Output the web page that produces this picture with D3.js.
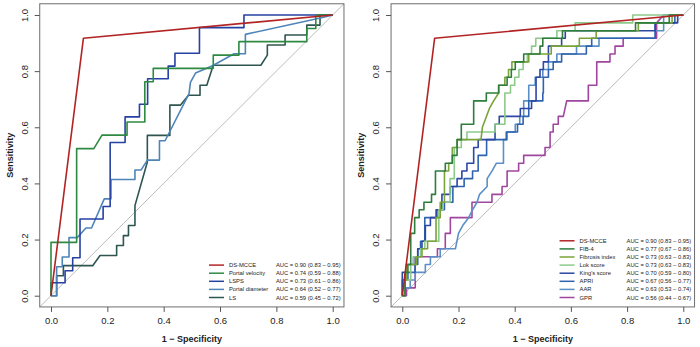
<!DOCTYPE html>
<html lang="en">
<head>
<meta charset="UTF-8">
<title>ROC curves</title>
<script src="https://cdn.jsdelivr.net/npm/d3@7/dist/d3.min.js"></script>
<style>
body { margin: 0; background: #fff; }
svg { display: block; }
text { font-family: 'Liberation Sans', Arial, sans-serif; fill: #222; }
</style>
</head>
<body>
<svg id="chart" width="700" height="347"></svg>
<script>
// ---- data ----
const xTicks = [0, 0.2, 0.4, 0.6, 0.8, 1.0];
const yTicks = [0, 0.2, 0.4, 0.6, 0.8, 1.0];

// left panel
const leftNames = ["DS-MCCE", "Portal velocity", "LSPS", "Portal diameter", "LS"];
const leftAUC = ["AUC = 0.90 (0.83 \u2013 0.95)", "AUC = 0.74 (0.59 \u2013 0.88)", "AUC = 0.73 (0.61 \u2013 0.86)",
                 "AUC = 0.64 (0.52 \u2013 0.77)", "AUC = 0.59 (0.45 \u2013 0.72)"];
const leftColors = ["#b22424", "#2e8a42", "#2741a3", "#4f84b8", "#2f5550"];

// each curve: [1 - specificity, sensitivity]
const dsMcce = [[0,0],[0.115,0.917],[1,1]];
const portalVelocity = [[0,0],[0,0.19],[0.091,0.19],[0.091,0.524],[0.152,0.524],[0.181,0.572],[0.27,0.572],[0.27,0.619],
  [0.333,0.619],[0.333,0.762],[0.363,0.762],[0.363,0.81],[0.576,0.81],[0.576,0.857],[0.667,0.857],[0.667,0.905],
  [0.908,0.905],[0.908,0.952],[0.94,0.952],[0.94,1],[1,1]];
const lsps = [[0,0],[0,0.046],[0.05,0.046],[0.05,0.089],[0.077,0.089],[0.077,0.135],[0.103,0.135],[0.103,0.273],
  [0.185,0.273],[0.185,0.318],[0.21,0.318],[0.21,0.546],[0.263,0.546],[0.263,0.637],[0.314,0.637],[0.314,0.682],
  [0.343,0.682],[0.343,0.773],[0.416,0.773],[0.416,0.818],[0.44,0.818],[0.44,0.864],[0.527,0.864],[0.527,0.955],
  [0.685,0.955],[0.685,1],[1,1]];
const portalDiameter = [[0,0],[0.02,0],[0.02,0.103],[0.04,0.103],[0.04,0.138],[0.064,0.138],[0.064,0.207],[0.093,0.207],
  [0.124,0.241],[0.144,0.241],[0.189,0.345],[0.213,0.345],[0.213,0.414],[0.298,0.414],[0.298,0.448],[0.32,0.448],
  [0.342,0.483],[0.385,0.483],[0.385,0.552],[0.405,0.552],[0.49,0.72],[0.495,0.76],[0.513,0.793],[0.575,0.82],
  [0.65,0.862],[0.69,0.862],[0.69,0.931],[0.96,0.99],[1,1]];
const ls = [[0,0],[0.02,0],[0.02,0.071],[0.044,0.071],[0.044,0.107],[0.148,0.107],[0.174,0.143],[0.233,0.143],
  [0.233,0.179],[0.257,0.179],[0.257,0.214],[0.275,0.214],[0.275,0.25],[0.298,0.25],[0.298,0.321],[0.342,0.476],
  [0.342,0.571],[0.422,0.571],[0.422,0.679],[0.46,0.679],[0.488,0.714],[0.529,0.714],[0.529,0.75],[0.553,0.75],
  [0.576,0.821],[0.745,0.821],[0.768,0.857],[0.768,0.893],[0.831,0.893],[0.831,0.929],[0.908,0.929],[0.908,0.964],
  [0.955,0.964],[0.955,1],[1,1]];
const leftCurves = [dsMcce, portalVelocity, lsps, portalDiameter, ls];

// right panel
const rightNames = ["DS-MCCE", "FIB-4", "Fibrosis index", "Lok score", "King's score", "APRI", "AAR", "GPR"];
const rightAUC = ["AUC = 0.90 (0.83 \u2013 0.95)", "AUC = 0.77 (0.67 \u2013 0.86)", "AUC = 0.73 (0.63 \u2013 0.83)",
                  "AUC = 0.73 (0.63 \u2013 0.83)", "AUC = 0.70 (0.59 \u2013 0.80)", "AUC = 0.67 (0.56 \u2013 0.77)",
                  "AUC = 0.63 (0.53 \u2013 0.74)", "AUC = 0.56 (0.44 \u2013 0.67)"];
const rightColors = ["#b22424", "#2e7d3c", "#7aa33a", "#8dca8a", "#2c47a4", "#2f63b0", "#5b8fc6", "#a0469f"];

const fib4 = [[0,0],[0.01,0],[0.01,0.083],[0.02,0.083],[0.02,0.111],[0.03,0.111],[0.03,0.222],[0.044,0.222],[0.044,0.278],
  [0.06,0.278],[0.06,0.306],[0.077,0.306],[0.077,0.333],[0.104,0.333],[0.104,0.361],[0.118,0.361],[0.118,0.444],
  [0.153,0.444],[0.153,0.472],[0.178,0.472],[0.178,0.5],[0.195,0.5],[0.195,0.556],[0.21,0.556],[0.21,0.611],
  [0.254,0.611],[0.254,0.694],[0.299,0.694],[0.299,0.722],[0.343,0.722],[0.343,0.75],[0.373,0.75],[0.373,0.778],
  [0.388,0.778],[0.388,0.806],[0.402,0.806],[0.402,0.833],[0.432,0.833],[0.432,0.861],[0.49,0.861],[0.49,0.889],
  [0.5,0.889],[0.5,0.917],[0.57,0.917],[0.57,0.944],[0.83,0.944],[0.83,0.972],[0.95,0.972],[0.95,1],[1,1]];
const fibrosisIndex = [[0,0],[0.01,0],[0.01,0.056],[0.015,0.056],[0.015,0.111],[0.05,0.111],[0.05,0.139],[0.07,0.139],
  [0.07,0.167],[0.09,0.167],[0.09,0.194],[0.12,0.194],[0.12,0.278],[0.135,0.278],[0.135,0.333],[0.15,0.333],
  [0.15,0.444],[0.165,0.444],[0.165,0.472],[0.178,0.472],[0.178,0.528],[0.195,0.528],[0.195,0.556],[0.28,0.556],
  [0.285,0.6],[0.3,0.64],[0.31,0.667],[0.325,0.694],[0.343,0.722],[0.343,0.75],[0.365,0.75],[0.365,0.778],
  [0.378,0.778],[0.378,0.806],[0.39,0.806],[0.39,0.833],[0.45,0.833],[0.45,0.861],[0.53,0.861],[0.53,0.889],
  [0.63,0.889],[0.63,0.917],[0.69,0.917],[0.69,0.944],[0.84,0.944],[0.84,0.972],[0.96,0.972],[0.96,1],[1,1]];
const lokScore = [[0,0],[0.01,0],[0.01,0.056],[0.03,0.056],[0.03,0.111],[0.04,0.111],[0.04,0.139],[0.065,0.139],
  [0.065,0.167],[0.08,0.167],[0.08,0.194],[0.13,0.194],[0.13,0.306],[0.145,0.306],[0.145,0.333],[0.17,0.333],
  [0.17,0.417],[0.185,0.417],[0.185,0.528],[0.21,0.528],[0.21,0.556],[0.23,0.556],[0.23,0.583],[0.33,0.583],
  [0.33,0.611],[0.365,0.611],[0.365,0.722],[0.385,0.722],[0.385,0.75],[0.4,0.75],[0.4,0.778],[0.415,0.778],
  [0.415,0.806],[0.43,0.806],[0.43,0.833],[0.445,0.833],[0.445,0.861],[0.46,0.861],[0.46,0.889],[0.475,0.889],
  [0.475,0.917],[0.55,0.917],[0.55,0.944],[0.615,0.944],[0.615,0.972],[0.82,0.972],[0.82,1],[1,1]];
const kingsScore = [[0,0],[0,0.083],[0.015,0.083],[0.015,0.111],[0.04,0.111],[0.04,0.139],[0.055,0.139],[0.055,0.167],
  [0.07,0.167],[0.07,0.194],[0.082,0.194],[0.082,0.25],[0.1,0.25],[0.1,0.278],[0.123,0.278],[0.123,0.306],
  [0.141,0.306],[0.141,0.361],[0.171,0.361],[0.171,0.389],[0.195,0.389],[0.195,0.417],[0.212,0.417],[0.212,0.444],
  [0.23,0.444],[0.23,0.472],[0.254,0.472],[0.254,0.528],[0.27,0.528],[0.27,0.556],[0.33,0.556],[0.33,0.611],
  [0.345,0.611],[0.345,0.639],[0.42,0.639],[0.42,0.667],[0.46,0.667],[0.46,0.694],[0.476,0.694],[0.476,0.778],
  [0.49,0.778],[0.49,0.806],[0.502,0.806],[0.502,0.833],[0.52,0.833],[0.52,0.889],[0.567,0.889],[0.567,0.917],
  [0.58,0.917],[0.58,0.944],[0.9,0.944],[0.9,0.972],[0.98,0.972],[0.98,1],[1,1]];
const apri = [[0,0],[0,0.056],[0.02,0.056],[0.02,0.083],[0.045,0.083],[0.045,0.111],[0.055,0.111],[0.055,0.167],
  [0.065,0.167],[0.065,0.194],[0.08,0.194],[0.08,0.278],[0.12,0.278],[0.12,0.306],[0.15,0.306],[0.15,0.333],
  [0.18,0.333],[0.18,0.389],[0.22,0.389],[0.22,0.417],[0.25,0.417],[0.25,0.444],[0.27,0.444],[0.27,0.5],[0.3,0.5],
  [0.3,0.556],[0.37,0.556],[0.37,0.583],[0.41,0.583],[0.41,0.611],[0.43,0.611],[0.43,0.639],[0.45,0.639],[0.45,0.694],
  [0.5,0.694],[0.5,0.722],[0.502,0.722],[0.502,0.778],[0.52,0.778],[0.52,0.806],[0.537,0.806],[0.537,0.833],
  [0.567,0.833],[0.567,0.861],[0.655,0.861],[0.655,0.889],[0.674,0.889],[0.674,0.917],[0.9,0.917],[0.9,0.972],
  [0.97,0.972],[0.97,1],[1,1]];
const aar = [[0,0],[0.01,0],[0.01,0.028],[0.028,0.028],[0.028,0.056],[0.046,0.056],[0.046,0.083],[0.082,0.083],
  [0.082,0.111],[0.1,0.111],[0.1,0.139],[0.135,0.139],[0.135,0.167],[0.189,0.167],[0.2,0.222],[0.215,0.25],
  [0.236,0.278],[0.25,0.306],[0.266,0.333],[0.275,0.361],[0.302,0.389],[0.302,0.417],[0.319,0.444],[0.335,0.472],
  [0.36,0.472],[0.36,0.556],[0.373,0.556],[0.373,0.583],[0.402,0.583],[0.402,0.611],[0.418,0.611],[0.418,0.639],
  [0.432,0.639],[0.432,0.694],[0.45,0.694],[0.45,0.75],[0.473,0.75],[0.473,0.778],[0.5,0.778],[0.5,0.806],
  [0.52,0.806],[0.52,0.833],[0.55,0.833],[0.55,0.861],[0.62,0.861],[0.62,0.889],[0.7,0.889],[0.7,0.917],
  [0.9,0.917],[0.9,0.944],[0.93,0.944],[0.93,1],[1,1]];
const gpr = [[0,0],[0.015,0],[0.015,0.028],[0.046,0.028],[0.046,0.139],[0.125,0.139],[0.125,0.167],[0.153,0.167],
  [0.153,0.222],[0.171,0.222],[0.171,0.278],[0.248,0.278],[0.248,0.333],[0.319,0.333],[0.319,0.361],[0.355,0.361],
  [0.355,0.389],[0.373,0.389],[0.373,0.444],[0.414,0.444],[0.414,0.472],[0.432,0.472],[0.432,0.5],[0.508,0.5],
  [0.508,0.528],[0.526,0.528],[0.526,0.583],[0.537,0.583],[0.537,0.611],[0.555,0.611],[0.555,0.639],[0.573,0.639],
  [0.585,0.694],[0.662,0.694],[0.662,0.75],[0.692,0.75],[0.692,0.833],[0.739,0.833],[0.739,0.861],[0.757,0.861],
  [0.757,0.889],[0.786,0.889],[0.786,0.917],[0.905,0.917],[0.905,0.972],[0.93,1],[1,1]];
const rightCurves = [dsMcce, fib4, fibrosisIndex, lokScore, kingsScore, apri, aar, gpr];

// ---- drawing ----
const svg = d3.select('#chart');

function drawPanel(zeroX, oneX, names, aucs, curves, colors) {
    const pad = 0.04; // R extends the axes by 4%
    const x = d3.scaleLinear().domain([-pad, 1 + pad])
        .range([zeroX - pad * (oneX - zeroX), oneX + pad * (oneX - zeroX)]);
    const y = d3.scaleLinear().domain([-pad, 1 + pad])
        .range([295.7 + pad * 280.7, 15 - pad * 280.7]);
    const [bx0, bx1] = x.range();
    const [by0, by1] = y.range();

    const g = svg.append('g');

    // diagonal reference
    g.append('line')
        .attr('x1', x(-pad)).attr('y1', y(-pad))
        .attr('x2', x(1 + pad)).attr('y2', y(1 + pad))
        .attr('stroke', '#bcbcbc').attr('stroke-width', 1);

    // curves (drawn last-to-first so DS-MCCE sits on top)
    const line = d3.line().x(d => x(d[0])).y(d => y(d[1]));
    g.append('g').selectAll('path')
        .data(curves.map((c, i) => ({c, i})).reverse())
        .join('path')
        .attr('d', d => line(d.c))
        .attr('fill', 'none')
        .attr('stroke', d => colors[d.i])
        .attr('stroke-width', 1.6)
        .attr('stroke-linejoin', 'round');

    // box
    g.append('rect')
        .attr('x', bx0).attr('y', by1)
        .attr('width', bx1 - bx0).attr('height', by0 - by1)
        .attr('fill', 'none').attr('stroke', '#6e6e6e').attr('stroke-width', 1);

    // x axis
    const xAxis = g.append('g').attr('transform', `translate(0,${by0})`)
        .call(d3.axisBottom(x).tickValues(xTicks).tickFormat(d3.format('.1f')).tickSize(5).tickPadding(5));
    xAxis.select('.domain').remove();
    xAxis.selectAll('line').attr('stroke', '#555');
    xAxis.selectAll('text').attr('font-size', 9.5).attr('fill', '#222')
        .attr('font-family', "'Liberation Sans', Arial, sans-serif");

    // y axis (labels parallel to the axis, like R)
    const yAxis = g.append('g').attr('transform', `translate(${bx0},0)`)
        .call(d3.axisLeft(y).tickValues(yTicks).tickFormat(d3.format('.1f')).tickSize(5));
    yAxis.select('.domain').remove();
    yAxis.selectAll('line').attr('stroke', '#555');
    yAxis.selectAll('text')
        .attr('font-size', 9.5).attr('fill', '#222')
        .attr('font-family', "'Liberation Sans', Arial, sans-serif")
        .attr('x', null).attr('dy', null)
        .attr('text-anchor', 'middle')
        .attr('transform', 'translate(-12,0) rotate(-90)');

    // axis titles
    g.append('text')
        .attr('x', (zeroX + oneX) / 2).attr('y', 342)
        .attr('text-anchor', 'middle')
        .attr('font-size', 9).attr('font-weight', 'bold')
        .text('1 \u2212 Specificity');
    g.append('text')
        .attr('transform', `translate(${bx0 - 27},${y(0.5)}) rotate(-90)`)
        .attr('text-anchor', 'middle')
        .attr('font-size', 9).attr('font-weight', 'bold')
        .text('Sensitivity');

    // legend, bottom right
    const rowH = 8.1;
    const lastY = 297.5;
    const leg = g.append('g').selectAll('g')
        .data(names)
        .join('g')
        .attr('transform', (d, i) => `translate(0,${lastY - (names.length - 1 - i) * rowH})`);
    leg.append('line')
        .attr('x1', bx1 - 135).attr('x2', bx1 - 120)
        .attr('stroke', (d, i) => colors[i]).attr('stroke-width', 1.5);
    leg.append('text')
        .attr('x', bx1 - 115).attr('dy', '0.35em')
        .attr('font-size', 5.8).attr('fill', '#333')
        .text(d => d);
    leg.append('text')
        .attr('x', bx1 - 68).attr('dy', '0.35em')
        .attr('font-size', 5.8).attr('fill', '#333')
        .text((d, i) => aucs[i]);
}

drawPanel(51, 332.7, leftNames, leftAUC, leftCurves, leftColors);
drawPanel(402.3, 683.3, rightNames, rightAUC, rightCurves, rightColors);
</script>
</body>
</html>
